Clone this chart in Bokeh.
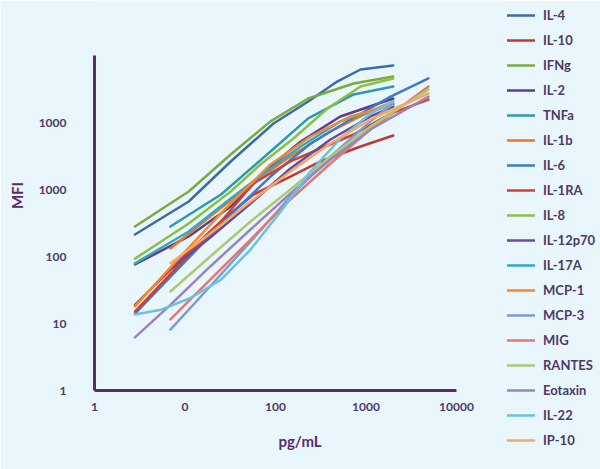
from bokeh.plotting import figure
from bokeh.models import Range1d, Legend, LegendItem, FixedTicker
from bokeh.embed import file_html
from bokeh.resources import INLINE

names = ["IL-4", "IL-10", "IFNg", "IL-2", "TNFa", "IL-1b", "IL-6", "IL-1RA", "IL-8",
         "IL-12p70", "IL-17A", "MCP-1", "MCP-3", "MIG", "RANTES", "Eotaxin", "IL-22", "IP-10"]
colors = ["#3d6aa8", "#bf3a30", "#7daa3c", "#5d3d8f", "#2e98ac", "#e47b2b", "#3e7bc4", "#cf4038",
          "#8cbf43", "#6b4c9a", "#35a7c3", "#f28a30", "#7e9cd4", "#dd7a72", "#a9cc70", "#9a84bd",
          "#6cc0e0", "#f7a768"]

# pg/mL (x) and MFI (y)
il4_x = [2.8, 11, 32, 95, 230, 480, 870, 2000]
il4_y = [213, 662, 2620, 9660, 20600, 40900, 61800, 71000]
il10_x = [2.8, 11, 25, 57, 146, 314, 870, 2000]
il10_y = [19, 119, 333, 841, 1560, 2620, 4380, 6400]
ifng_x = [2.8, 11, 32, 88, 230, 730, 2000]
ifng_y = [280, 933, 3330, 10400, 22800, 38200, 48600]
il2_x = [2.8, 11, 32, 88, 190, 520, 2000]
il2_y = [76, 199, 557, 2200, 5200, 12300, 22800]
tnfa_x = [6.9, 25, 88, 230, 730, 2000]
tnfa_y = [280, 841, 3690, 11500, 26200, 34400]
il1b_x = [6.9, 19, 53, 146, 405, 1120, 2000]
il1b_y = [132, 395, 1190, 3110, 7340, 14600, 20600]
il6_x = [2.8, 8.9, 28, 88, 244, 674, 1870, 4900]
il6_y = [14, 71, 357, 1560, 4860, 11100, 24400, 45400]
il1ra_x = [2.8, 8.9, 25, 57, 146, 314, 728, 1870, 4900]
il1ra_y = [15, 79, 333, 1230, 2620, 4090, 6620, 13600, 22000]
il8_x = [2.8, 11, 32, 68, 158, 375, 870, 2000]
il8_y = [93, 311, 933, 2360, 5770, 16200, 34400, 45400]
il12_x = [6.9, 19, 53, 146, 405, 1120, 2000]
il12_y = [64, 192, 618, 2060, 5570, 12300, 17300]
il17_x = [2.8, 11, 32, 88, 190, 520, 2000]
il17_y = [79, 236, 735, 2060, 4380, 10400, 18600]
mcp1_x = [2.8, 8.9, 28, 88, 244, 674, 2000]
mcp1_y = [18, 100, 520, 2360, 6180, 12300, 18600]
mcp3_x = [6.9, 19, 53, 146, 405, 1120, 2000]
mcp3_y = [8.1, 36, 167, 787, 3110, 10400, 19200]
mig_x = [6.9, 19, 53, 146, 405, 1120, 4900]
mig_y = [11.5, 45, 179, 710, 2440, 7870, 34400]
rantes_x = [6.9, 19, 53, 146, 405, 1120, 4900]
rantes_y = [30, 100, 333, 1000, 3110, 8710, 31100]
eotaxin_x = [2.8, 6.9, 19, 53, 146, 405, 1120, 4900]
eotaxin_y = [6.2, 19, 71, 253, 871, 2810, 7870, 24400]
il22_x = [2.8, 5.4, 11.5, 25, 53, 114, 244, 523, 1120, 2000]
il22_y = [13.6, 16, 24, 45, 127, 470, 1860, 5770, 13600, 20600]
ip10_x = [6.9, 19, 53, 146, 405, 1120, 4900]
ip10_y = [79, 220, 662, 1860, 4860, 11100, 27100]

series = [(il4_x, il4_y), (il10_x, il10_y), (ifng_x, ifng_y), (il2_x, il2_y), (tnfa_x, tnfa_y),
          (il1b_x, il1b_y), (il6_x, il6_y), (il1ra_x, il1ra_y), (il8_x, il8_y), (il12_x, il12_y),
          (il17_x, il17_y), (mcp1_x, mcp1_y), (mcp3_x, mcp3_y), (mig_x, mig_y),
          (rantes_x, rantes_y), (eotaxin_x, eotaxin_y), (il22_x, il22_y), (ip10_x, ip10_y)]

x_ticks = [1, 10, 100, 1000, 10000]
x_tick_labels = ["1", "0", "100", "1000", "10000"]
y_ticks = [1, 10, 100, 1000, 10000]
y_tick_labels = ["1", "10", "100", "1000", "1000"]
x_axis_span = (1, 10000)
y_axis_span = (1, 100000)

BG = "#e9f6fc"
AXIS = "#5a2a6e"
TXT = "#4b3b66"
FONT = "Lato"

# frame: x 94..505 px (90.5 px per decade), y 0..390 px (67 px per decade)
FW, FH = 411, 390
x_end = 10 ** (FW / 90.5)
y_end = 10 ** (FH / 67.0)

p = figure(frame_width=FW, frame_height=FH, x_axis_type="log", y_axis_type="log",
           x_range=Range1d(1, x_end), y_range=Range1d(1, y_end),
           output_backend="svg", toolbar_location=None,
           min_border_left=94, min_border_right=0, min_border_top=0, min_border_bottom=79)
p.background_fill_color = BG
p.border_fill_color = BG
p.outline_line_color = None
p.grid.grid_line_color = None

items = []
for name, color, (xs, ys) in zip(names, colors, series):
    r = p.line(xs, ys, line_color=color, line_width=2.5, line_cap="round", line_join="round")
    items.append(LegendItem(label=name, renderers=[r]))

for ax, ticks, labels, span in ((p.xaxis[0], x_ticks, x_tick_labels, x_axis_span),
                                (p.yaxis[0], y_ticks, y_tick_labels, y_axis_span)):
    ax.ticker = FixedTicker(ticks=ticks, minor_ticks=[])
    ax.bounds = span
    ax.major_label_overrides = {float(t): l for t, l in zip(ticks, labels)}
    ax.axis_line_color = AXIS
    ax.axis_line_width = 3
    ax.major_tick_line_color = None
    ax.minor_tick_line_color = None
    ax.major_tick_out = 0
    ax.major_tick_in = 0
    ax.major_label_text_font = FONT
    ax.major_label_text_font_style = "bold"
    ax.major_label_text_font_size = "12px"
    ax.major_label_text_color = TXT
    ax.axis_label_text_font = FONT
    ax.axis_label_text_font_style = "bold"
    ax.axis_label_text_font_size = "15px"
    ax.axis_label_text_color = AXIS

p.xaxis.axis_label = "pg/mL"
p.yaxis.axis_label = "MFI"
p.xaxis.major_label_standoff = 12
p.xaxis.axis_label_standoff = 18
p.yaxis.major_label_standoff = 28
p.yaxis.axis_label_standoff = 10

legend = Legend(items=items, location="top_left", orientation="vertical",
                spacing=0, padding=0, margin=2,
                glyph_width=28, glyph_height=20, label_height=25, label_standoff=8,
                label_text_font=FONT, label_text_font_style="bold",
                label_text_font_size="13px", label_text_color=TXT,
                border_line_color=None, background_fill_alpha=0)
p.add_layout(legend, "right")

open("out.html", "w").write(file_html(p, INLINE))
